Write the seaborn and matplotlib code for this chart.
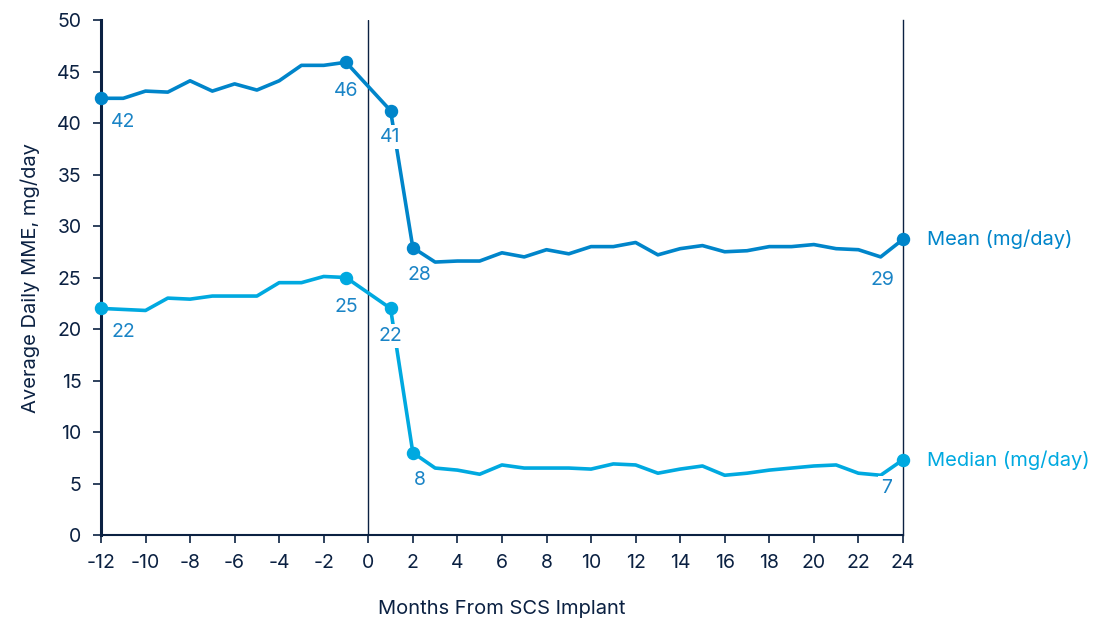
import matplotlib
matplotlib.use("Agg")
import matplotlib.pyplot as plt
import seaborn as sns
import pandas as pd

months = [-12, -11, -10, -9, -8, -7, -6, -5, -4, -3, -2, -1,
          1, 2, 3, 4, 5, 6, 7, 8, 9, 10, 11, 12, 13, 14, 15, 16, 17, 18, 19, 20, 21, 22, 23, 24]
mean_mme = [42.4, 42.4, 43.1, 43.0, 44.1, 43.1, 43.8, 43.2, 44.1, 45.6, 45.6, 45.9,
            41.2, 27.9, 26.5, 26.6, 26.6, 27.4, 27.0, 27.7, 27.3, 28.0, 28.0, 28.4,
            27.2, 27.8, 28.1, 27.5, 27.6, 28.0, 28.0, 28.2, 27.8, 27.7, 27.0, 28.7]
median_mme = [22.0, 21.9, 21.8, 23.0, 22.9, 23.2, 23.2, 23.2, 24.5, 24.5, 25.1, 25.0,
              22.0, 8.0, 6.5, 6.3, 5.9, 6.8, 6.5, 6.5, 6.5, 6.4, 6.9, 6.8,
              6.0, 6.4, 6.7, 5.8, 6.0, 6.3, 6.5, 6.7, 6.8, 6.0, 5.8, 7.3]
marked_months = [-12, -1, 1, 2, 24]
mean_labels = ["42", "46", "41", "28", "29"]
median_labels = ["22", "25", "22", "8", "7"]
series_names = ["Mean (mg/day)", "Median (mg/day)"]
x_ticks = list(range(-12, 25, 2))
y_ticks = list(range(0, 51, 5))

sns.set_theme(style="white")
plt.rcParams['font.family'] = ['Inter', 'DejaVu Sans']

NAVY = "#0b2142"
MEAN_C = "#0085ca"
MED_C = "#00a9e0"
LABEL_C = "#1a84c6"

fig = plt.figure(figsize=(10.95, 6.2), dpi=100)
ax = fig.add_axes([0.0922, 0.1371, 0.7324, 0.8306])

df = pd.DataFrame({"month": months, "mean": mean_mme, "median": median_mme})
sns.lineplot(data=df, x="month", y="mean", color=MEAN_C, linewidth=2.6, ax=ax)
sns.lineplot(data=df, x="month", y="median", color=MED_C, linewidth=2.6, ax=ax)

mk = df[df["month"].isin(marked_months)]
ax.scatter(mk["month"], mk["mean"], s=75, color=MEAN_C, zorder=5, clip_on=False)
ax.scatter(mk["month"], mk["median"], s=75, color=MED_C, zorder=5, clip_on=False)

white = dict(boxstyle="square,pad=0.15", fc="white", ec="none")
offsets = [(16, -17), (0, -21), (0, -19), (5, -20), (-15, -29)]
for (m, lab, off) in zip(marked_months, mean_labels, offsets):
    v = df.loc[df["month"] == m, "mean"].iloc[0]
    ax.annotate(lab, (m, v), xytext=off, textcoords="offset points",
                ha="center", va="center", fontsize=14, color=LABEL_C,
                bbox=white if m == 1 else None, zorder=6)
offsets_m = [(16, -17), (0, -21), (0, -20), (5, -20), (-12, -20)]
for (m, lab, off) in zip(marked_months, median_labels, offsets_m):
    v = df.loc[df["month"] == m, "median"].iloc[0]
    ax.annotate(lab, (m, v), xytext=off, textcoords="offset points",
                ha="center", va="center", fontsize=14, color=LABEL_C,
                bbox=white if m in (1, 24) else None, zorder=6)

ax.set_xlim(-12, 24)
ax.set_ylim(0, 50)
ax.set_xticks(x_ticks)
ax.set_yticks(y_ticks)
ax.set_xticklabels([str(t) for t in x_ticks], fontsize=14, color=NAVY)
ax.set_yticklabels([str(t) for t in y_ticks], fontsize=14, color=NAVY)
ax.tick_params(axis="both", which="major", direction="out", length=6, width=1.2,
               color=NAVY, bottom=True, left=True, pad=8)
ax.set_xlabel("Months From SCS Implant", fontsize=14.5, color=NAVY, labelpad=20)
ax.set_ylabel("Average Daily MME, mg/day", fontsize=14.5, color=NAVY, labelpad=12)

ax.spines["top"].set_visible(False)
ax.spines["left"].set_color(NAVY)
ax.spines["left"].set_linewidth(2.2)
ax.spines["bottom"].set_color(NAVY)
ax.spines["bottom"].set_linewidth(1.5)
ax.spines["right"].set_color(NAVY)
ax.spines["right"].set_linewidth(1.0)
ax.axvline(0, color=NAVY, linewidth=1.0, zorder=1)

ax.text(25.1, mean_mme[-1], series_names[0], fontsize=14.5, color=MEAN_C, va="center", ha="left")
ax.text(25.1, median_mme[-1], series_names[1], fontsize=14.5, color=MED_C, va="center", ha="left")

fig.savefig("out.png", dpi=100)
